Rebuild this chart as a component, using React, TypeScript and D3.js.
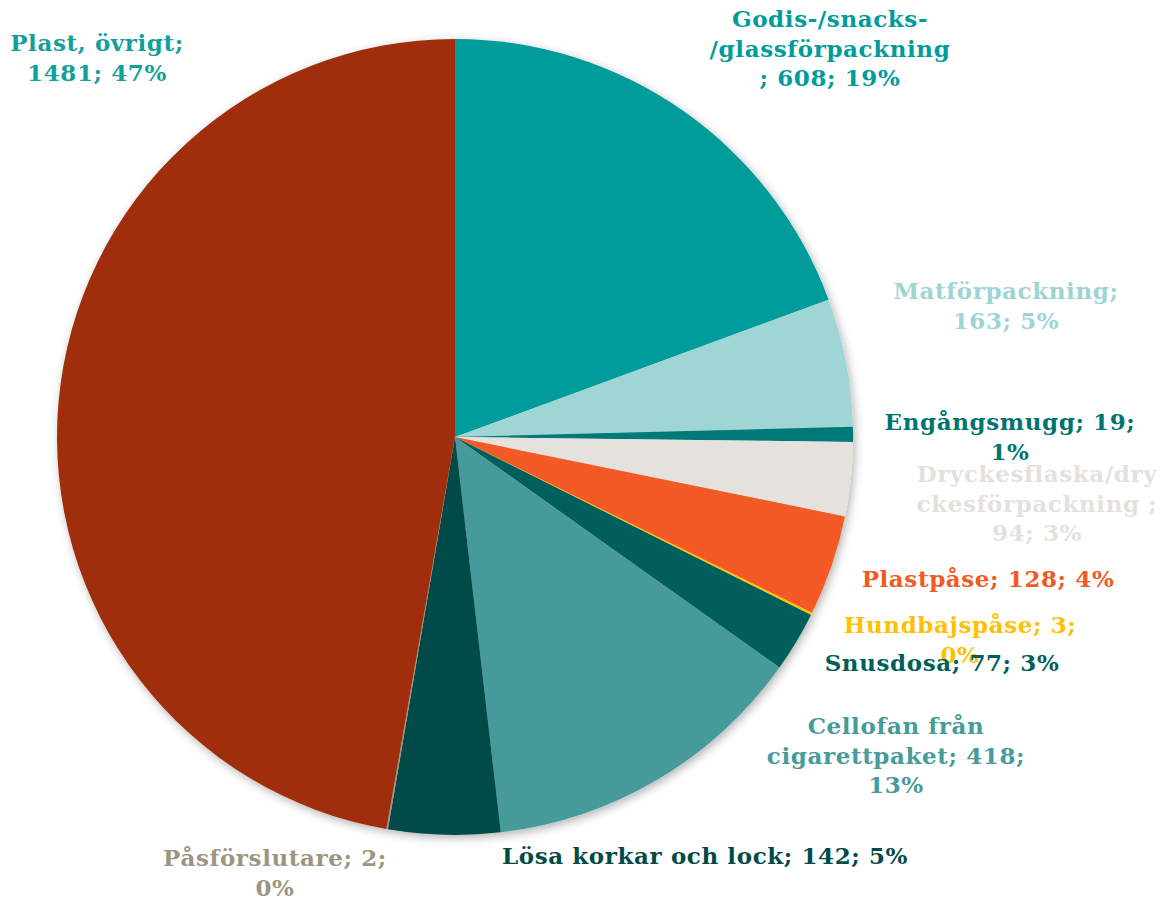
import * as d3 from "d3";

const CATEGORIES = [
  "Godis-/snacks-/glassförpackning",
  "Matförpackning",
  "Engångsmugg",
  "Dryckesflaska/dryckesförpackning",
  "Plastpåse",
  "Hundbajspåse",
  "Snusdosa",
  "Cellofan från cigarettpaket",
  "Lösa korkar och lock",
  "Påsförslutare",
  "Plast, övrigt",
];
const VALUES = [608, 163, 19, 94, 128, 3, 77, 418, 142, 2, 1481];

// label lines as Excel wrapped them
const LABEL_LINES = [
  ["Godis-/snacks-", "/glassförpackning", "; 608; 19%"],
  ["Matförpackning;", "163; 5%"],
  ["Engångsmugg; 19;", "1%"],
  ["Dryckesflaska/dry", "ckesförpackning ;", "94; 3%"],
  ["Plastpåse; 128; 4%"],
  ["Hundbajspåse; 3;", "0%"],
  ["Snusdosa; 77; 3%"],
  ["Cellofan från", "cigarettpaket; 418;", "13%"],
  ["Lösa korkar och lock; 142; 5%"],
  ["Påsförslutare; 2;", "0%"],
  ["Plast, övrigt;", "1481; 47%"],
];

const SLICE_COLORS = [
  "#009b9b", "#a0d5d5", "#007a78", "#e5e2dd", "#f45a26", "#ffc000",
  "#005f5a", "#469a9a", "#004b48", "#9c9680", "#a02f08",
];
const LABEL_COLORS = [
  "#009b9b", "#9ed4d4", "#00756f", "#e4e1dc", "#f15a24", "#ffc000",
  "#005f5a", "#469b9b", "#024b47", "#9c9680", "#13a09a",
];

// label anchor (center x, first line center y)
const LABEL_POS: [number, number][] = [
  [830, 18], [1006, 290], [1010, 421], [1037, 473], [988, 578], [960, 624],
  [942, 662], [896, 725], [705, 855], [275, 857], [97, 42],
];

const WIDTH = 1165;
const HEIGHT = 900;
const CX = 455;
const CY = 437;
const RADIUS = 398;
const LINE_H = 29.5;

export default function App() {
  const pie = d3
    .pie<number>()
    .sort(null)
    .startAngle(0)
    .endAngle(2 * Math.PI)
    .value((d) => d);
  const arcs = pie(VALUES);
  const arc = d3.arc<d3.PieArcDatum<number>>().innerRadius(0).outerRadius(RADIUS);

  return (
    <svg
      width={WIDTH}
      height={HEIGHT}
      style={{ position: "absolute", left: 0, top: 0 }}
      fontFamily="'DejaVu Serif', Georgia, serif"
    >
      <defs>
        <filter id="shadow" x="-10%" y="-10%" width="120%" height="120%">
          <feDropShadow dx="2" dy="3" stdDeviation="5" floodColor="#000" floodOpacity="0.3" />
        </filter>
      </defs>
      <g transform={`translate(${CX},${CY})`} filter="url(#shadow)">
        {arcs.map((a, i) => (
          <path key={CATEGORIES[i]} d={arc(a) ?? ""} fill={SLICE_COLORS[i]} />
        ))}
      </g>
      <g fontWeight="bold" fontSize={23} letterSpacing={0.6} textAnchor="middle">
        {LABEL_LINES.map((lines, i) => (
          <text key={i} fill={LABEL_COLORS[i]} dominantBaseline="central">
            {lines.map((l, j) => (
              <tspan key={j} x={LABEL_POS[i][0]} y={LABEL_POS[i][1] + j * LINE_H}>
                {l}
              </tspan>
            ))}
          </text>
        ))}
      </g>
    </svg>
  );
}
